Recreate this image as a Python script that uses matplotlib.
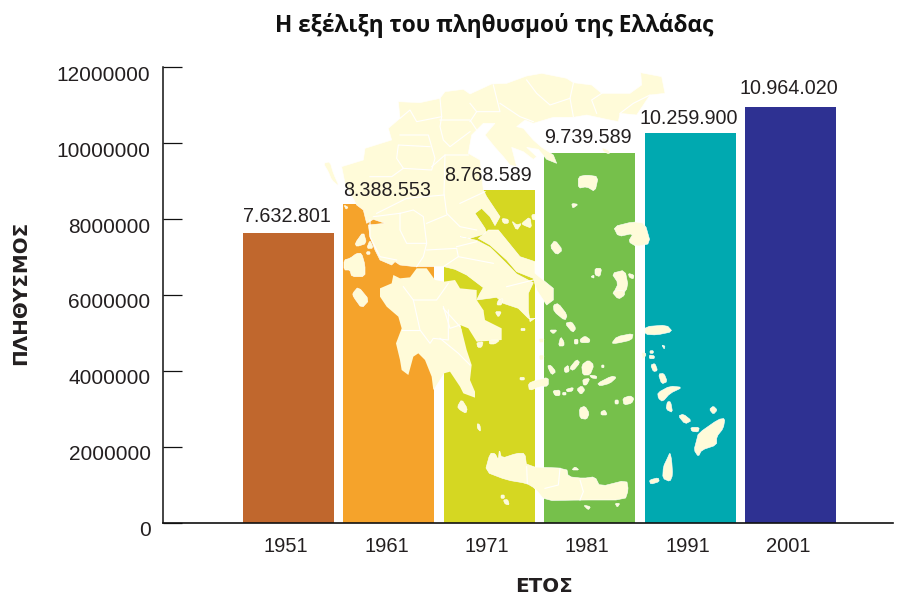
import matplotlib
matplotlib.use('Agg')
import matplotlib.pyplot as plt
from matplotlib.patches import Polygon
from matplotlib.transforms import Affine2D, ScaledTranslation

years = ['1951', '1961', '1971', '1981', '1991', '2001']
population = [7632801, 8388553, 8768589, 9739589, 10259900, 10964020]
value_labels = ['7.632.801', '8.388.553', '8.768.589', '9.739.589', '10.259.900', '10.964.020']
colors = ['#C0672D', '#F5A32B', '#D5D722', '#76C04B', '#00A9B0', '#2E3192']
yticks = [0, 2000000, 4000000, 6000000, 8000000, 10000000, 12000000]
label_gap = [5.0, 2.8, 3.5, 4.2, 4.2, 6.4]

CREAM = '#FFFBD9'
TXT = '#231F20'
W, H = 907, 596


def z1(pts):
    return [(320 + x / 3, 60 + y / 3) for x, y in pts]

def z2(pts):
    return [(440 + x / 3, 290 + y / 3) for x, y in pts]

def z3(pts):
    return [(320 + x / 3, 200 + y / 3) for x, y in pts]

# cut the corners so the traced shapes are less blocky
def soften(pts, n=1):
    for _ in range(n):
        out = []
        for i in range(len(pts)):
            a, b = pts[i], pts[(i + 1) % len(pts)]
            out.append((0.8 * a[0] + 0.2 * b[0], 0.8 * a[1] + 0.2 * b[1]))
            out.append((0.2 * a[0] + 0.8 * b[0], 0.2 * a[1] + 0.8 * b[1]))
        pts = out
    return pts


north = z1([(235, 125), (300, 128), (360, 115), (375, 95), (430, 88), (450, 102), (515, 72), (560, 70), (620, 48),
            (665, 40), (740, 55), (760, 68), (815, 75), (845, 100), (930, 100), (965, 75), (962, 38), (1025, 50),
            (1035, 100), (990, 105), (950, 165), (900, 160), (895, 185), (860, 178), (800, 165), (760, 172),
            (700, 172), (640, 190), (615, 180), (590, 200), (610, 205), (640, 240), (665, 262), (700, 285),
            (710, 310), (680, 298), (655, 268), (620, 262), (650, 290), (640, 298), (610, 275), (575, 262),
            (590, 320), (570, 315), (550, 290), (525, 262), (495, 225), (525, 190), (490, 190), (455, 225),
            (445, 280), (480, 300), (490, 390), (500, 410), (540, 470), (525, 497), (510, 470), (485, 445),
            (465, 460), (495, 505), (500, 520), (450, 535), (420, 530), (470, 541), (510, 562), (555, 606),
            (590, 642), (640, 668), (625, 700), (625, 750), (630, 785), (645, 775), (625, 775), (595, 745),
            (550, 730), (530, 712), (470, 720), (480, 700), (490, 683), (440, 645), (405, 628), (372, 620),
            (340, 620), (295, 620), (285, 620), (240, 615), (225, 605), (215, 615), (180, 600), (165, 570),
            (150, 530), (145, 495), (195, 490), (160, 478), (140, 490), (130, 450), (110, 435), (75, 370),
            (65, 320), (130, 300), (135, 265), (215, 240), (205, 205), (240, 175)])

peloponnese = z3([(220, 225), (240, 235), (270, 232), (290, 205), (320, 205), (345, 240), (372, 245), (405, 240),
                  (420, 265), (470, 270), (470, 300), (490, 330), (490, 360), (450, 340), (420, 375), (425, 390),
                  (380, 510), (372, 520), (340, 570), (335, 530), (315, 480), (295, 460), (280, 470), (265, 525),
                  (245, 510), (240, 480), (228, 430), (245, 385), (235, 350), (200, 320), (180, 290), (180, 265),
                  (215, 250)])

argolid = z2([(0, 50), (130, 60), (135, 90), (185, 115), (185, 150), (110, 155), (85, 115), (60, 105), (65, 120),
              (80, 180), (95, 225), (90, 270), (105, 305), (105, 323), (70, 310), (60, 290), (30, 245), (12, 250),
              (0, 250)])

evia = z1([(505, 510), (535, 510), (600, 590), (645, 605), (645, 640), (700, 685), (700, 720), (680, 735),
           (650, 690), (640, 655), (590, 635), (560, 600), (510, 555), (475, 535), (495, 520)])

islands = [
    # Ionian
    z1([(10, 310), (30, 305), (40, 340), (58, 380), (35, 360), (25, 335)]),
    z3([(72, 15), (85, 22), (78, 28)]),
    z3([(105, 130), (130, 95), (140, 130), (110, 140)]),
    z3([(150, 120), (160, 145), (140, 145)]),
    z3([(140, 155), (150, 155), (150, 163), (140, 163)]),
    z3([(72, 180), (90, 175), (110, 160), (125, 160), (135, 195), (135, 230), (95, 230), (90, 210), (72, 210)]),
    z3([(98, 280), (115, 260), (148, 300), (125, 325), (100, 290)]),
    # north Aegean
    z1([(545, 475), (565, 478), (565, 490), (550, 490)]),
    z1([(575, 482), (590, 512), (605, 490), (590, 495)]),
    z1([(605, 490), (630, 470), (635, 505), (610, 495)]),
    z1([(635, 465), (645, 462), (645, 480), (637, 478)]),
    z1([(845, 262), (868, 272), (868, 282), (850, 275)]),
    z1([(775, 350), (800, 345), (835, 350), (825, 395), (800, 380), (775, 385)]),
    z1([(755, 430), (775, 433), (758, 445)]),
    z1([(880, 500), (940, 485), (975, 490), (992, 550), (950, 560), (925, 545), (940, 520), (895, 530)]),
    z1([(690, 560), (705, 540), (728, 570), (710, 585)]),
    z1([(875, 640), (915, 630), (925, 680), (900, 715), (880, 700), (895, 670)]),
    z1([(925, 640), (942, 645), (940, 657), (928, 652)]),
    z1([(825, 625), (845, 625), (840, 650), (825, 645)]),
    z1([(812, 650), (822, 645), (822, 655)]),
    # Saronic, Kythira
    z2([(165, 65), (185, 65), (175, 82)]),
    z2([(175, 30), (190, 25), (185, 45), (170, 45)]),
    z2([(110, 158), (130, 155), (125, 172), (113, 172)]),
    z2([(148, 150), (180, 150), (165, 162), (148, 162)]),
    z2([(243, 115), (255, 115), (255, 122), (243, 122)]),
    z2([(52, 350), (65, 328), (82, 355), (78, 370), (60, 360)]),
    z2([(112, 400), (120, 405), (122, 425), (112, 415)]),
    # Cyclades
    z2([(340, 45), (355, 40), (382, 75), (375, 92), (342, 65)]),
    z2([(375, 100), (395, 95), (408, 115), (398, 128)]),
    z2([(515, 5), (550, 0), (555, 15), (535, 28)]),
    z2([(328, 120), (352, 120), (340, 132)]),
    z2([(355, 168), (362, 140), (372, 155), (372, 168)]),
    z2([(403, 148), (414, 148), (414, 162), (403, 162)]),
    z2([(420, 148), (435, 138), (450, 148), (448, 158), (422, 158)]),
    z2([(515, 160), (530, 140), (580, 130), (575, 150), (530, 160)]),
    z2([(322, 228), (332, 225), (348, 245), (335, 255)]),
    z2([(372, 235), (385, 225), (388, 245), (375, 248)]),
    z2([(388, 235), (410, 208), (420, 218), (400, 242)]),
    z2([(425, 225), (445, 210), (462, 225), (450, 255), (428, 255)]),
    z2([(485, 225), (492, 225), (492, 233), (485, 233)]),
    z2([(448, 255), (470, 258), (470, 266), (455, 264)]),
    z2([(428, 268), (450, 265), (440, 285), (430, 285)]),
    z2([(472, 280), (515, 258), (530, 262), (510, 280), (480, 288)]),
    z2([(240, 262), (253, 262), (253, 270), (240, 270)]),
    z2([(265, 280), (290, 270), (325, 262), (325, 288), (300, 290), (268, 302)]),
    z2([(338, 302), (360, 300), (360, 317), (345, 317)]),
    z2([(368, 307), (378, 307), (378, 315), (368, 315)]),
    z2([(378, 298), (400, 292), (398, 303), (382, 306)]),
    z2([(410, 298), (425, 287), (435, 300), (423, 314)]),
    z2([(418, 355), (435, 348), (448, 370), (440, 388), (420, 385)]),
    z2([(483, 365), (495, 360), (502, 375), (483, 375)]),
    z2([(525, 330), (535, 330), (535, 342), (525, 342)]),
    z2([(548, 325), (570, 317), (582, 325), (575, 340), (552, 345)]),
    z2([(296, 145), (312, 145), (310, 158), (298, 158)]),
    z2([(297, 195), (312, 195), (310, 210), (298, 210)]),
    # Dodecanese
    z2([(615, 110), (680, 105), (698, 125), (650, 135), (615, 133)]),
    z2([(665, 165), (675, 168), (673, 178)]),
    z2([(630, 182), (640, 182), (640, 190), (630, 190)]),
    z2([(628, 195), (643, 197), (643, 206), (628, 206)]),
    z2([(605, 185), (620, 192), (608, 210)]),
    z2([(632, 225), (645, 220), (653, 242), (640, 245)]),
    z2([(655, 252), (672, 250), (682, 275), (665, 282)]),
    z2([(653, 308), (690, 288), (728, 292), (690, 310), (668, 335), (655, 325)]),
    z2([(682, 335), (692, 335), (698, 368), (678, 358)]),
    z2([(715, 378), (730, 372), (755, 392), (735, 402)]),
    z2([(808, 358), (820, 348), (832, 360), (820, 373)]),
    z2([(752, 412), (778, 412), (775, 426), (755, 424)]),
    z2([(775, 430), (835, 388), (855, 385), (850, 415), (830, 440), (830, 465), (785, 480), (775, 500), (762, 480),
        (770, 450)]),
    z2([(690, 487), (695, 510), (698, 555), (690, 575), (668, 565), (670, 530), (682, 505)]),
    z2([(628, 570), (655, 563), (658, 575), (632, 583)]),
    # Crete and around
    z2([(135, 545), (150, 490), (165, 490), (175, 510), (178, 478), (185, 505), (230, 490), (255, 490), (260, 530),
        (380, 535), (385, 560), (430, 565), (465, 560), (480, 590), (560, 570), (565, 600), (555, 630), (420, 630),
        (315, 632), (285, 595), (260, 580), (200, 570)]),
    z2([(183, 615), (193, 615), (193, 625), (183, 625)]),
    z2([(190, 630), (203, 628), (208, 645), (195, 642)]),
    z2([(395, 540), (405, 530), (418, 540)]),
    z2([(430, 645), (452, 650), (445, 660)]),
    z2([(525, 640), (540, 640), (532, 652)]),
]

borders = [
    z1([(360, 115), (365, 170), (290, 185), (270, 150), (240, 175)]),
    z1([(365, 170), (360, 200), (370, 240), (390, 260), (450, 215)]),
    z1([(360, 180), (450, 180), (470, 210)]),
    z1([(450, 130), (470, 155), (450, 185)]),
    z1([(470, 155), (540, 155), (520, 75)]),
    z1([(540, 130), (600, 170), (640, 185)]),
    z1([(620, 60), (650, 100), (690, 135), (750, 115), (760, 70)]),
    z1([(750, 115), (760, 170)]),
    z1([(845, 100), (815, 120), (830, 160)]),
    z1([(900, 160), (940, 130), (990, 105)]),
    z1([(240, 225), (325, 225), (345, 295), (335, 330), (250, 325), (230, 295), (235, 255), (330, 260)]),
    z1([(335, 320), (375, 285), (445, 285)]),
    z1([(375, 285), (372, 400), (380, 460), (420, 500), (470, 510)]),
    z1([(420, 430), (495, 395)]),
    z1([(250, 325), (215, 350), (150, 350)]),
    z1([(372, 405), (260, 415), (170, 460)]),
    z1([(160, 470), (240, 460), (280, 450), (310, 470), (320, 550), (260, 550), (240, 510), (240, 460)]),
    z1([(320, 490), (380, 465)]),
    z1([(320, 550), (310, 590), (290, 620)]),
    z1([(320, 570), (410, 565), (415, 590), (520, 610)]),
    z1([(410, 560), (470, 545)]),
    z1([(150, 480), (150, 530), (180, 590), (230, 600)]),
    z1([(415, 590), (370, 620)]),
    z1([(560, 680), (640, 660)]),
    z3([(250, 260), (280, 300), (350, 300), (385, 250)]),
    z3([(280, 300), (300, 390), (330, 430), (340, 415), (385, 420), (385, 330)]),
    z3([(370, 325), (420, 380)]),
    z3([(245, 390), (300, 390)]),
    z2([(10, 50), (30, 115), (60, 105)]),
    z2([(0, 145), (55, 190), (90, 225)]),
    z2([(260, 530), (262, 580)]),
    z2([(360, 535), (355, 585), (315, 595)]),
    z2([(420, 570), (430, 605), (420, 630)]),
]

plt.rcParams['font.family'] = ['Liberation Sans', 'DejaVu Sans']
fig = plt.figure(figsize=(W / 100, H / 100), dpi=100)
ax = fig.add_axes([163 / W, 1 - 522.7 / H, 730 / W, 455.4 / H])
px = Affine2D().scale(1, -1).translate(0, H)

xs = list(range(len(years)))
ax.bar(xs, population, width=0.906, color=colors, zorder=1)

# map sits on top of the bars
for poly in [north, evia]:
    ax.add_patch(Polygon(poly, closed=True, facecolor=CREAM, edgecolor='white', linewidth=0.4,
                         transform=px, clip_on=False, zorder=2))
for poly in [peloponnese, argolid]:
    ax.add_patch(Polygon(poly, closed=True, facecolor=CREAM, edgecolor='none', transform=px, clip_on=False, zorder=2))
for poly in islands:
    ax.add_patch(Polygon(soften(poly), closed=True, facecolor=CREAM, edgecolor='white', linewidth=0.4,
                         transform=px, clip_on=False, zorder=2))
for line in borders:
    ax.plot(*zip(*line), color='white', lw=0.8, transform=px, clip_on=False, zorder=3)

for x, v, lab, gap in zip(xs, population, value_labels, label_gap):
    ax.annotate(lab, (x, v), xytext=(-1, gap), textcoords='offset points', ha='center', va='bottom',
                fontsize=14.2, color=TXT, zorder=5)

ax.set_xlim(-1.25, 6.02)
ax.set_ylim(0, 12000000)
ax.set_xticks(xs)
ax.set_xticklabels(years, fontsize=14.5, color=TXT)
ax.set_yticks(yticks)
ax.set_yticklabels([str(t) for t in yticks], fontsize=15, color=TXT)
ax.tick_params(axis='x', length=0, pad=10)
ax.tick_params(axis='y', direction='in', length=13.7, width=0.9, pad=9, color='#111111')
for lab in ax.get_yticklabels():
    lab.set_transform(lab.get_transform() + ScaledTranslation(0, -6 / 100, fig.dpi_scale_trans))
for lab in ax.get_xticklabels():
    lab.set_transform(lab.get_transform() + ScaledTranslation(-2.5 / 100, 0, fig.dpi_scale_trans))

for s in ['top', 'right']:
    ax.spines[s].set_visible(False)
ax.spines['left'].set_linewidth(1.1)
ax.spines['bottom'].set_linewidth(1.2)
ax.spines['left'].set_color('#111111')
ax.spines['bottom'].set_color('#111111')
ax.set_axisbelow(False)

fig.text(494 / W, 1 - 25 / H, 'Η εξέλιξη του πληθυσμού της Ελλάδας', ha='center', va='center',
         fontsize=16.3, fontweight='bold', family=['Open Sans', 'DejaVu Sans'], color='#111111')
fig.text(544 / W, 1 - 586 / H, 'ΕΤΟΣ', ha='center', va='center', fontsize=14.3, fontweight='bold',
         family=['DejaVu Sans'], color=TXT)
fig.text(21 / W, 1 - 293 / H, 'ΠΛΗΘΥΣΜΟΣ', ha='center', va='center', rotation=90, fontsize=14.3,
         fontweight='bold', family=['DejaVu Sans'], color=TXT)

fig.savefig('out.png', dpi=100)
